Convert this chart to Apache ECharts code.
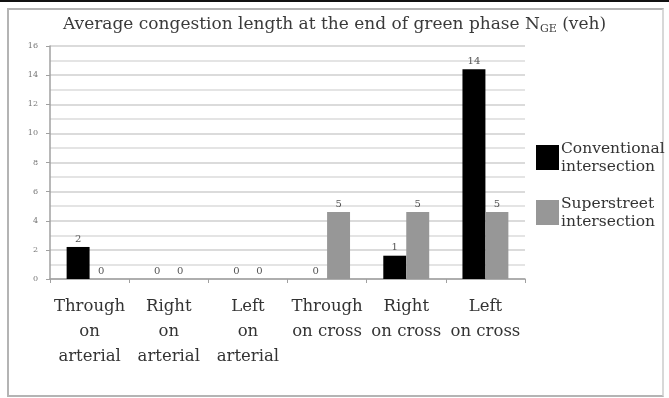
<!DOCTYPE html>
<html>
<head>
<meta charset="utf-8">
<script src="https://cdn.jsdelivr.net/npm/echarts@6/dist/echarts.min.js"></script>
<style>
  html, body { margin: 0; padding: 0; background: #fff; }
  #topline { position: absolute; left: 0; top: 0; width: 669px; height: 2px; background: #111; }
  #frame { position: absolute; left: 7px; top: 8px; width: 653px; height: 385px; border: 2px solid #b4b4b4; border-right-color: #d8d8d8; }
  #chart { position: absolute; left: 0; top: 0; width: 669px; height: 398px; }
</style>
</head>
<body>
<div id="topline"></div>
<div id="frame"></div>
<div id="chart"></div>
<script>
const categories = [
  'Through\non\narterial',
  'Right\non\narterial',
  'Left\non\narterial',
  'Through\non cross',
  'Right\non cross',
  'Left\non cross'
];
const conventional = [2.2, 0, 0, 0, 1.6, 14.4];
const superstreet = [0, 0, 0, 4.6, 4.6, 4.6];
const conventionalLabels = ['2', '0', '0', '0', '1', '14'];
const superstreetLabels = ['0', '0', '0', '5', '5', '5'];
const yTicks = [0, 2, 4, 6, 8, 10, 12, 14, 16];

const serif = '"DejaVu Serif", "Liberation Serif", serif';
const chart = echarts.init(document.getElementById('chart'));

chart.setOption({
  animation: false,
  title: {
    text: '{a|Average congestion length at the end of green phase N}{s|GE}{a| (veh)}',
    left: 'center',
    top: 9,
    textStyle: {
      fontWeight: 'normal',
      rich: {
        a: { fontFamily: serif, fontSize: 17, fontWeight: 'normal', color: '#3a3a3a', lineHeight: 22 },
        s: { fontFamily: serif, fontSize: 11, fontWeight: 'normal', color: '#3a3a3a', lineHeight: 22, padding: [8, 0, 0, 0] }
      }
    }
  },
  legend: {
    orient: 'vertical',
    left: 531,
    top: 134.5,
    icon: 'rect',
    itemWidth: 23,
    itemHeight: 25,
    itemGap: 19,
    textStyle: { fontFamily: serif, fontSize: 15.5, color: '#333', lineHeight: 18, padding: [0, 0, 0, -3] },
    formatter: function (name) {
      return name === 'Conventional intersection' ? 'Conventional\nintersection' : 'Superstreet\nintersection';
    },
    data: ['Conventional intersection', 'Superstreet intersection']
  },
  grid: { left: 50, right: 144, top: 46, bottom: 119 },
  xAxis: {
    type: 'category',
    data: categories,
    axisLine: { lineStyle: { color: '#a0a0a0', width: 1.5 } },
    axisTick: { show: true, length: 4, lineStyle: { color: '#a0a0a0' } },
    axisLabel: { fontFamily: serif, fontSize: 16.5, color: '#333', lineHeight: 25, margin: 15, interval: 0 }
  },
  yAxis: {
    type: 'value',
    min: yTicks[0],
    max: yTicks[yTicks.length - 1],
    interval: 2,
    axisLine: { show: true, lineStyle: { color: '#a0a0a0', width: 1.5 } },
    axisTick: { show: true, length: 4, lineStyle: { color: '#a0a0a0' } },
    axisLabel: { fontFamily: serif, fontSize: 8, color: '#777', margin: 12 },
    splitLine: { lineStyle: { color: '#cfcfcf', width: 1.5 } },
    minorTick: { show: false, splitNumber: 2 },
    minorSplitLine: { show: true, lineStyle: { color: '#dcdcdc', width: 1.5 } }
  },
  series: [
    {
      name: 'Conventional intersection',
      type: 'bar',
      data: conventional,
      barGap: '0%',
      barCategoryGap: '42%',
      itemStyle: { color: '#000' },
      label: {
        show: true, position: 'top', distance: 3,
        fontFamily: serif, fontSize: 10, color: '#555',
        formatter: p => conventionalLabels[p.dataIndex]
      }
    },
    {
      name: 'Superstreet intersection',
      type: 'bar',
      data: superstreet,
      barGap: '0%',
      barCategoryGap: '42%',
      itemStyle: { color: '#979797' },
      label: {
        show: true, position: 'top', distance: 3,
        fontFamily: serif, fontSize: 10, color: '#555',
        formatter: p => superstreetLabels[p.dataIndex]
      }
    }
  ]
});
</script>
</body>
</html>
